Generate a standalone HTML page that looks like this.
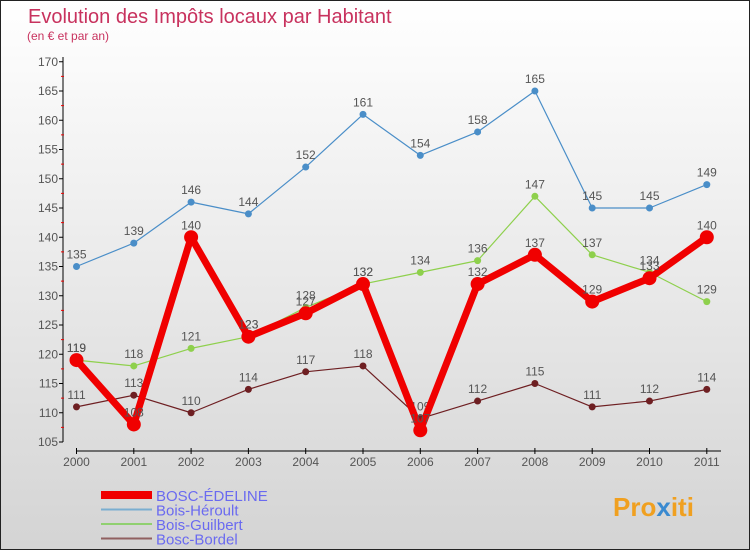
<!DOCTYPE html>
<html><head><meta charset="utf-8"><style>
body{margin:0;}
#c{width:748px;height:548px;border:1px solid #222;background:linear-gradient(#fff,#d4d4d4);position:relative;font-family:"Liberation Sans",sans-serif;overflow:hidden}
svg{position:absolute;left:0;top:0}
</style></head><body>
<div id="c">
<svg id="s" width="750" height="550">
<text x="27" y="22" font-size="20" fill="#c8325e">Evolution des Impôts locaux par Habitant</text>
<text x="26" y="39" font-size="12" fill="#c8325e">(en € et par an)</text>
<g id="g"></g>
<text x="612" y="515" font-size="26" font-weight="bold" fill="#f0a020">Pro<tspan fill="#3a8ad0">x</tspan>iti</text>
</svg>
</div>
<script>
const years=[2000,2001,2002,2003,2004,2005,2006,2007,2008,2009,2010,2011];
const boscEdeline=[119,108,140,123,127,132,107,132,137,129,133,140];
const boisHeroult=[135,139,146,144,152,161,154,158,165,145,145,149];
const boisGuilbert=[119,118,121,123,128,132,134,136,147,137,134,129];
const boscBordel=[111,113,110,114,117,118,109,112,115,111,112,114];
const yTicks=[105,110,115,120,125,130,135,140,145,150,155,160,165,170];
const NS="http://www.w3.org/2000/svg";
const g=document.getElementById('g');
const X=i=>75.5+i*57.3;
const Y=v=>441-(v-105)*5.85;
function el(t,a,p){const e=document.createElementNS(NS,t);for(const k in a)e.setAttribute(k,a[k]);(p||g).appendChild(e);return e;}
let ax=el('line',{x1:62,y1:56,x2:62,y2:441,stroke:'#000'});


let bx=el('line',{x1:75,y1:450,x2:720,y2:450,stroke:'#000'});


yTicks.forEach(v=>{
 el('line',{x1:58,x2:62,y1:Y(v),y2:Y(v),stroke:'#000'});
 if(v<170)el('line',{x1:60,x2:63,y1:Y(v+2.5),y2:Y(v+2.5),stroke:'#e00'});
 const t=el('text',{x:57,y:Y(v)+4,'text-anchor':'end','font-size':12,fill:'#555'});
 t.textContent=v;
 
 
});
years.forEach((y,i)=>{
 el('line',{x1:X(i),x2:X(i),y1:447,y2:453,stroke:'#000'});
 const t=el('text',{x:X(i),y:465,'text-anchor':'middle','font-size':12,fill:'#555'});
 t.textContent=y;
 
 
});
function series(d,col,w,r,name){
 const p=el('polyline',{points:d.map((v,i)=>X(i)+','+Y(v)).join(' '),fill:'none',stroke:col,'stroke-width':w,'stroke-linejoin':'round'});
 
 
 d.forEach((v,i)=>{
  const c=el('circle',{cx:X(i),cy:Y(v),r:r,fill:col});
  
  
  const t=el('text',{x:X(i),y:Y(v)-8,'text-anchor':'middle','font-size':12,fill:'#555'});
  t.textContent=v;
  
  
 });
}
series(boscBordel,'#6e1f22',1.2,3.5,'bosc-bordel');
series(boisGuilbert,'#8ed04c',1.2,3.5,'bois-guilbert');
series(boisHeroult,'#4a8ec8',1.2,3.5,'bois-heroult');
series(boscEdeline,'#f00000',7,7,'bosc-edeline');
const leg=[['BOSC-ÉDELINE','#f00000',8],['Bois-Héroult','#7aaed0',2],['Bois-Guilbert','#90d070',2],['Bosc-Bordel','#906060',2]];
leg.forEach((l,i)=>{
 const y=494+i*14.5;
 const ln=el('line',{x1:100,x2:151,y1:y,y2:y,stroke:l[1],'stroke-width':l[2]});
 
 
 const t=el('text',{x:155,y:y+6,'font-size':15,fill:'#6a6af0'});
 t.textContent=l[0];
 
 
});
</script>
</body></html>
